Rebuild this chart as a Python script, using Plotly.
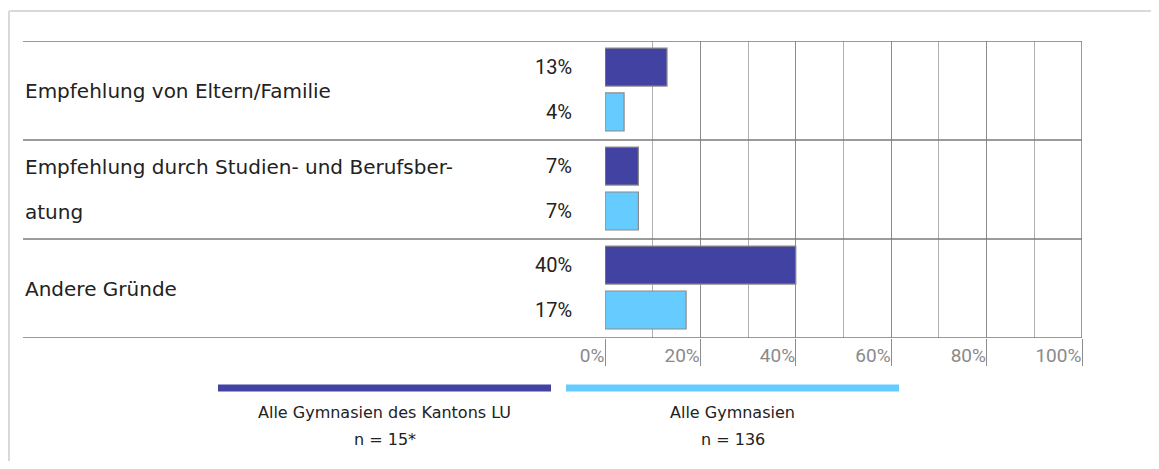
import plotly.graph_objects as go

# ---- data ----
categories = [
    "Empfehlung von Eltern/Familie",
    "Empfehlung durch Studien- und Berufsber-<br>atung",
    "Andere Gründe",
]
series_names = ["Alle Gymnasien des Kantons LU", "Alle Gymnasien"]
series_n = ["n = 15*", "n = 136"]
values_lu = [13, 7, 40]
values_all = [4, 7, 17]
tick_vals = [0, 20, 40, 60, 80, 100]
tick_text = ["0%", "20%", "40%", "60%", "80%", "100%"]

# ---- style ----
# the page body keeps its default 8px margin; the figure is sized so that
# figure + margins fill the window exactly, and pixel positions measured
# in the window are shifted by those 8px
OFF = 8
W, H = 1159 - 2 * OFF, 469 - 2 * OFF
FONT_NUM = "Roboto"
FONT_TXT = "DejaVu Sans"
DARK = "#4242A3"
LIGHT = "#66CCFF"
TXT = "#222222"


def px_x(p):
    return (p - OFF) / W


def px_y(p):
    return (H - (p - OFF)) / H


x_dom = [px_x(605), px_x(1082)]
y_dom = [px_y(338), px_y(41)]

n_cat = len(categories)
pos_lu = [i + 0.263 for i in range(n_cat)]
pos_all = [i + 0.717 for i in range(n_cat)]
bar_w = 0.384

fig = go.Figure()
fig.add_trace(go.Bar(
    x=values_lu, y=pos_lu, orientation="h", width=bar_w,
    marker=dict(color=DARK, line=dict(color="#8a8a8a", width=1.2)),
    name=series_names[0], showlegend=False, hoverinfo="skip",
))
fig.add_trace(go.Bar(
    x=values_all, y=pos_all, orientation="h", width=bar_w,
    marker=dict(color=LIGHT, line=dict(color="#8a8a8a", width=1.2)),
    name=series_names[1], showlegend=False, hoverinfo="skip",
))

shapes = []
annotations = []

# outer frame (top + left)
shapes.append(dict(type="line", xref="paper", yref="paper",
                   x0=px_x(9), x1=1.0, y0=px_y(11), y1=px_y(11),
                   line=dict(color="#d9d9d9", width=2)))
shapes.append(dict(type="line", xref="paper", yref="paper",
                   x0=px_x(9), x1=px_x(9), y0=px_y(11), y1=0,
                   line=dict(color="#d9d9d9", width=2)))

# horizontal separators
for k in range(n_cat + 1):
    shapes.append(dict(type="line", xref="paper", yref="y",
                       x0=px_x(23), x1=x_dom[1], y0=k, y1=k,
                       line=dict(color="#7a7a7a", width=1.5), layer="above"))

# right border of the plot area
shapes.append(dict(type="line", xref="x", yref="y", x0=100, x1=100, y0=0, y1=n_cat,
                   line=dict(color="#7a7a7a", width=1.5), layer="above"))

# category labels
for i, cat in enumerate(categories):
    lines = cat.split("<br>")
    m = len(lines)
    for j, ln in enumerate(lines):
        off = (j - (m - 1) / 2) * 45
        annotations.append(dict(
            x=px_x(23), xref="paper", y=i + 0.5, yref="y", yshift=-off,
            text=ln, showarrow=False, xanchor="left", yanchor="middle",
            font=dict(family=FONT_TXT, size=20, color=TXT)))

# value labels
for vals, pos in ((values_lu, pos_lu), (values_all, pos_all)):
    for v, p in zip(vals, pos):
        annotations.append(dict(
            x=0, xref="x", y=p, yref="y", xshift=-31,
            text=f"{v}%", showarrow=False, xanchor="right", yanchor="middle",
            font=dict(family=FONT_NUM, size=20, color=TXT)))

# legend
leg_ranges = [(218, 551), (566, 899)]
leg_colors = [DARK, LIGHT]
for (a, b), col, name, nn in zip(leg_ranges, leg_colors, series_names, series_n):
    shapes.append(dict(type="line", xref="paper", yref="paper",
                       x0=px_x(a), x1=px_x(b), y0=px_y(388), y1=px_y(388),
                       line=dict(color=col, width=7)))
    annotations.append(dict(x=px_x((a + b) / 2), xref="paper", y=px_y(412), yref="paper",
                            text=name, showarrow=False, xanchor="center", yanchor="middle",
                            font=dict(family=FONT_TXT, size=16, color=TXT)))
    annotations.append(dict(x=px_x((a + b) / 2), xref="paper", y=px_y(439), yref="paper",
                            text=nn, showarrow=False, xanchor="center", yanchor="middle",
                            font=dict(family=FONT_TXT, size=16, color=TXT)))

fig.update_layout(
    template="none",
    width=W, height=H, autosize=False,
    margin=dict(l=0, r=0, t=0, b=0, pad=0, autoexpand=False),
    paper_bgcolor="white", plot_bgcolor="white",
    barmode="overlay",
    showlegend=False,
    shapes=shapes, annotations=annotations,
    xaxis=dict(
        domain=x_dom, range=[0, 100], automargin=False,
        tickmode="array", tickvals=tick_vals, ticktext=tick_text,
        showgrid=True, gridcolor="#8c8c8c", gridwidth=1.3,
        minor=dict(dtick=10, showgrid=True, gridcolor="#b0b0b0", gridwidth=1.3),
        ticks="outside", ticklen=27, tickwidth=1.3, tickcolor="#8c8c8c",
        ticklabelposition="outside left",
        tickfont=dict(family=FONT_NUM, size=19, color="#8a8a8a"),
        zeroline=False, showline=False, fixedrange=True,
    ),
    yaxis=dict(
        domain=y_dom, range=[n_cat, 0], automargin=False,
        showgrid=False, zeroline=False, showticklabels=False, showline=False,
        ticks="", fixedrange=True,
    ),
)

fig.write_html("out.html")
